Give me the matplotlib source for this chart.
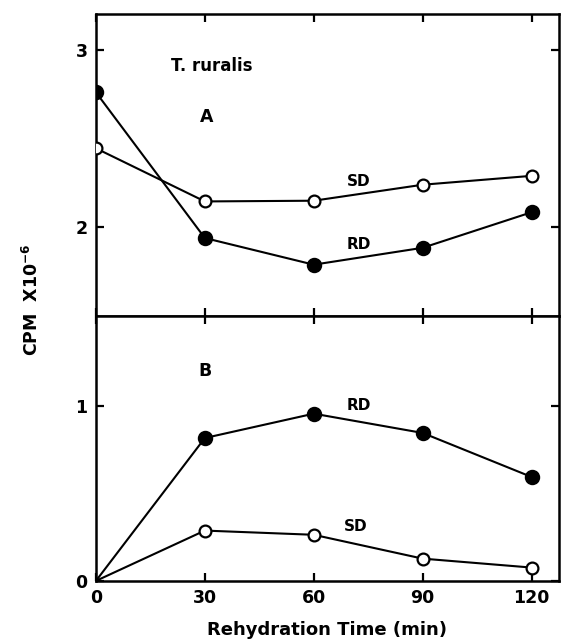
import matplotlib
matplotlib.use("Agg")
import matplotlib.pyplot as plt

plt.rcParams['font.family'] = ['DejaVu Sans']
plt.rcParams['font.weight'] = 'bold'

# rehydration time (min)
time = [0, 30, 60, 90, 120]

# panel A values (CPM x 10^-6)
a_rd = [2.76, 1.94, 1.79, 1.885, 2.085]
a_sd = [2.445, 2.146, 2.15, 2.24, 2.29]

# panel B values
b_rd = [0.0, 0.815, 0.954, 0.844, 0.593]
b_sd = [0.0, 0.287, 0.263, 0.127, 0.076]

xticks = [0, 30, 60, 90, 120]

fig = plt.figure(figsize=(5.61, 6.44), dpi=100)
axA = fig.add_axes([0.171, 0.509, 0.825, 0.469])
axB = fig.add_axes([0.171, 0.098, 0.825, 0.411])

def style(ax):
    for s in ax.spines.values():
        s.set_linewidth(1.8)
    ax.tick_params(direction='in', length=6, width=1.6, top=True, right=True,
                   labelsize=12.5, pad=6)
    ax.set_xlim(0, 127.5)
    ax.set_xticks(xticks)

def series(ax, y, filled, start):
    # panel B lines start at the origin without a marker
    ax.plot(time, y, color='black', lw=1.5, marker='o', ms=9.5 if filled else 8.5,
            mfc='black' if filled else 'white', mec='black', mew=1.6,
            markevery=slice(start, None), zorder=3)

# top panel
series(axA, a_rd, True, 0)
series(axA, a_sd, False, 0)
style(axA)
axA.set_ylim(1.5, 3.2)
axA.set_yticks([2, 3])
axA.set_yticklabels(['2', '3'])
axA.tick_params(labelbottom=False)
axA.text(32, 2.91, 'T. ruralis', ha='center', va='center', fontsize=12)
axA.text(30.5, 2.62, 'A', ha='center', va='center', fontsize=12.5)
axA.text(72.5, 2.26, 'SD', ha='center', va='center', fontsize=11)
axA.text(72.5, 1.905, 'RD', ha='center', va='center', fontsize=11)

# bottom panel
series(axB, b_rd, True, 1)
series(axB, b_sd, False, 1)
style(axB)
axB.set_ylim(0, 1.51)
axB.set_yticks([0, 1])
axB.set_yticklabels(['0', '1'])
axB.set_xticklabels([str(t) for t in xticks])
axB.text(30, 1.2, 'B', ha='center', va='center', fontsize=12.5)
axB.text(72.5, 1.0, 'RD', ha='center', va='center', fontsize=11)
axB.text(71.6, 0.31, 'SD', ha='center', va='center', fontsize=11)
axB.set_xlabel('Rehydration Time (min)', fontsize=13, fontweight='bold', labelpad=10)

fig.text(0.057, 0.535, r'CPM  X10$^{-6}$', rotation=90, ha='center', va='center', fontsize=12.5)

fig.savefig('out.png', dpi=100)
